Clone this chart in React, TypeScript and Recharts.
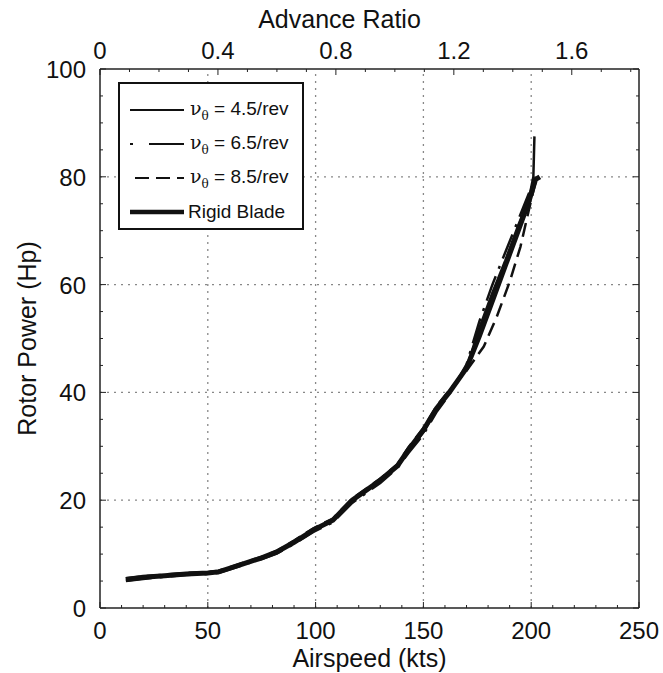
import React from 'react';
import { LineChart, Line, XAxis, YAxis, ReferenceLine, Legend } from 'recharts';

// ---- data ----
const speed45 = [12, 20, 30, 40, 50, 55, 65, 75, 82, 90, 99, 108, 117, 130, 138, 143, 150, 156, 162, 170, 176, 182, 188, 194, 199, 201, 201.5];
const power45 = [5.2, 5.6, 6.0, 6.3, 6.5, 6.7, 8.0, 9.3, 10.4, 12.2, 14.4, 16.2, 19.9, 23.6, 26.3, 29.1, 32.6, 36.8, 40.0, 44.6, 52.0, 58.5, 64.5, 71.0, 76.0, 80.0, 87.5];

const speed65 = [12, 20, 30, 40, 50, 55, 65, 75, 82, 90, 99, 108, 117, 130, 138, 143, 150, 156, 162, 170, 176, 182, 188, 194, 199, 202];
const power65 = [5.0, 5.4, 5.8, 6.1, 6.3, 6.5, 7.8, 9.1, 10.1, 11.9, 14.1, 15.9, 19.5, 23.2, 26.0, 28.7, 32.2, 36.3, 39.6, 45.2, 53.2, 60.0, 66.0, 72.0, 77.0, 80.0];

const speed85 = [12, 20, 30, 40, 50, 55, 65, 75, 82, 90, 99, 108, 117, 130, 138, 143, 150, 156, 162, 170, 178, 184, 190, 195, 199, 202, 203];
const power85 = [5.5, 5.9, 6.2, 6.5, 6.7, 6.9, 8.2, 9.5, 10.6, 12.5, 14.8, 16.6, 20.3, 24.0, 26.7, 29.8, 33.4, 37.4, 40.4, 44.0, 48.5, 54.0, 60.5, 67.0, 74.0, 79.0, 80.0];

const speedRigid = [12, 20, 30, 40, 50, 55, 65, 75, 82, 90, 99, 108, 117, 130, 138, 143, 150, 156, 162, 170, 176, 182, 188, 194, 199, 202, 204];
const powerRigid = [5.3, 5.7, 6.0, 6.3, 6.5, 6.7, 8.0, 9.3, 10.4, 12.2, 14.5, 16.3, 20.0, 23.7, 26.4, 29.3, 33.0, 37.0, 40.0, 44.5, 50.5, 57.0, 63.5, 70.0, 75.5, 79.5, 80.0];

const seriesNames = ['4.5/rev', '6.5/rev', '8.5/rev', 'Rigid Blade'];

const airspeedTicks = [0, 10, 20, 30, 40, 50, 60, 70, 80, 90, 100, 110, 120, 130, 140, 150, 160, 170, 180, 190, 200, 210, 220, 230, 240, 250];
const airspeedLabels = [0, 50, 100, 150, 200, 250];
const airspeedGrid = [50, 100, 150, 200];

const powerTicks = [0, 5, 10, 15, 20, 25, 30, 35, 40, 45, 50, 55, 60, 65, 70, 75, 80, 85, 90, 95, 100];
const powerLabels = [0, 20, 40, 60, 80, 100];
const powerGrid = [20, 40, 60, 80];

const advanceTicks = [0, 0.1, 0.2, 0.3, 0.4, 0.5, 0.6, 0.7, 0.8, 0.9, 1.0, 1.1, 1.2, 1.3, 1.4, 1.5, 1.6, 1.7, 1.8];
const advanceLabels = [0, 0.4, 0.8, 1.2, 1.6];
const advanceMax = 1.828;

const toData = (s: number[], p: number[]) => s.map((v, i) => ({ s: v, p: p[i] }));
const data45 = toData(speed45, power45);
const data65 = toData(speed65, power65);
const data85 = toData(speed85, power85);
const dataRigid = toData(speedRigid, powerRigid);
// empty carrier series so the top / right axes get their scales (draws nothing)
const advanceCarrier = advanceLabels.map((a) => ({ a, q: null as number | null }));

// ---- styles ----
const FONT = '"Liberation Sans", Arial, sans-serif';
const TICK_FS = 24;
const styleMap: Record<string, { w: number; dash?: string }> = {
  '4.5/rev': { w: 2.5 },
  '6.5/rev': { w: 2.5, dash: '26 8 3 8' },
  '8.5/rev': { w: 2.5, dash: '14 7' },
  'Rigid Blade': { w: 5 },
};

const isLabel = (labels: number[], v: number) => labels.some((l) => Math.abs(l - v) < 1e-6);

const BottomTick = (props: any) => {
  const { x, y, payload } = props;
  const major = isLabel(airspeedLabels, payload.value);
  return (
    <g>
      <line x1={x} y1={y} x2={x} y2={y - (major ? 6 : 3)} stroke="#222" strokeWidth={1} />
      {major && (
        <text x={x} y={y + 31} textAnchor="middle" fontSize={TICK_FS} fontFamily={FONT} fill="#111">
          {payload.value}
        </text>
      )}
    </g>
  );
};

const TopTick = (props: any) => {
  const { x, y, payload } = props;
  const major = isLabel(advanceLabels, payload.value);
  return (
    <g>
      <line x1={x} y1={y} x2={x} y2={y + (major ? 6 : 3)} stroke="#222" strokeWidth={1} />
      {major && (
        <text x={x} y={y - 10} textAnchor="middle" fontSize={TICK_FS} fontFamily={FONT} fill="#111">
          {String(payload.value)}
        </text>
      )}
    </g>
  );
};

const LeftTick = (props: any) => {
  const { x, y, payload } = props;
  const major = isLabel(powerLabels, payload.value);
  return (
    <g>
      <line x1={x} y1={y} x2={x + (major ? 6 : 3)} y2={y} stroke="#222" strokeWidth={1} />
      {major && (
        <text x={x - 14} y={y + 9} textAnchor="end" fontSize={TICK_FS} fontFamily={FONT} fill="#111">
          {payload.value}
        </text>
      )}
    </g>
  );
};

const RightTick = (props: any) => {
  const { x, y, payload } = props;
  const major = isLabel(powerLabels, payload.value);
  return <line x1={x} y1={y} x2={x - (major ? 6 : 3)} y2={y} stroke="#222" strokeWidth={1} />;
};

const LegendBox = (props: any) => {
  const payload = (props.payload || []) as any[];
  const sorted = seriesNames
    .map((n) => payload.find((p) => p.value === n))
    .filter(Boolean);
  return (
    <div
      style={{
        width: 186,
        height: 148,
        border: '2px solid #111',
        background: '#fff',
        boxSizing: 'border-box',
        fontFamily: FONT,
        fontSize: 19,
        color: '#111',
        paddingTop: 9,
      }}
    >
      {sorted.map((p: any) => {
        const isRigid = p.value === 'Rigid Blade';
        return (
          <div key={p.value} style={{ display: 'flex', alignItems: 'center', height: 34 }}>
            <svg width={66} height={20} style={{ flex: 'none' }}>
              <line
                x1={10}
                y1={10}
                x2={64}
                y2={10}
                stroke="#111"
                strokeWidth={isRigid ? 4.5 : 2}
                strokeDasharray={p.value === '6.5/rev' ? '3 16 32 0' : p.value === '8.5/rev' ? '14 7' : undefined}
                strokeDashoffset={p.value === '8.5/rev' ? -5 : 0}
              />
            </svg>
            {isRigid ? (
              <span style={{ marginLeft: 2 }}>Rigid Blade</span>
            ) : (
              <span style={{ marginLeft: 4, whiteSpace: 'nowrap' }}>
                <span style={{ fontFamily: '"DejaVu Serif", serif', fontSize: 19 }}>ν</span>
                <sub style={{ fontSize: 12, fontFamily: '"DejaVu Serif", serif' }}>θ</sub>
                {' = '}
                {p.value}
              </span>
            )}
          </div>
        );
      })}
    </div>
  );
};

const BottomTitle = (props: any) => {
  const vb = props.viewBox || {};
  return (
    <text x={vb.x + vb.width / 2} y={vb.y + 59} textAnchor="middle" fontSize={25} fontFamily={FONT} fill="#111">
      Airspeed (kts)
    </text>
  );
};

const TopTitle = (props: any) => {
  const vb = props.viewBox || {};
  return (
    <text x={vb.x + vb.width / 2 - 30} y={vb.y + vb.height - 41} textAnchor="middle" fontSize={25} fontFamily={FONT} fill="#111">
      Advance Ratio
    </text>
  );
};

const LeftTitle = (props: any) => {
  const vb = props.viewBox || {};
  const cx = 36;
  const cy = vb.y + vb.height / 2;
  return (
    <text x={cx} y={cy} transform={`rotate(-90 ${cx} ${cy})`} textAnchor="middle" fontSize={25} fontFamily={FONT} fill="#111">
      Rotor Power (Hp)
    </text>
  );
};

export default function App() {
  const axisLine = { stroke: '#222', strokeWidth: 1.5 };
  const grid = { stroke: '#888', strokeWidth: 1.3, strokeDasharray: '2 5' };
  return (
    <div style={{ position: 'absolute', left: 0, top: 0, background: '#fff' }}>
      <LineChart width={663} height={673} margin={{ top: 0, right: 0, bottom: 0, left: 0 }}>
        <XAxis
          xAxisId="bottom"
          orientation="bottom"
          type="number"
          dataKey="s"
          domain={[0, 250]}
          ticks={airspeedTicks}
          interval={0}
          height={65}
          tickSize={0}
          tickMargin={0}
          tickLine={false}
          axisLine={axisLine}
          tick={<BottomTick />}
          allowDataOverflow
          label={{ content: <BottomTitle /> }}
        />
        <XAxis
          xAxisId="top"
          orientation="top"
          type="number"
          dataKey="a"
          domain={[0, advanceMax]}
          ticks={advanceTicks}
          interval={0}
          height={69}
          tickSize={0}
          tickMargin={0}
          tickLine={false}
          axisLine={axisLine}
          tick={<TopTick />}
          allowDataOverflow
          label={{ content: <TopTitle /> }}
        />
        <YAxis
          yAxisId="left"
          orientation="left"
          type="number"
          domain={[0, 100]}
          ticks={powerTicks}
          interval={0}
          width={100}
          tickSize={0}
          tickMargin={0}
          tickLine={false}
          axisLine={axisLine}
          tick={<LeftTick />}
          allowDataOverflow
          label={{ content: <LeftTitle /> }}
        />
        <YAxis
          yAxisId="right"
          orientation="right"
          type="number"
          domain={[0, 100]}
          ticks={powerTicks}
          interval={0}
          width={24}
          tickSize={0}
          tickMargin={0}
          tickLine={false}
          axisLine={axisLine}
          tick={<RightTick />}
          allowDataOverflow
        />
        {airspeedGrid.map((v) => (
          <ReferenceLine key={'gx' + v} x={v} xAxisId="bottom" yAxisId="left" {...grid} />
        ))}
        {powerGrid.map((v) => (
          <ReferenceLine key={'gy' + v} y={v} xAxisId="bottom" yAxisId="left" {...grid} />
        ))}
        <Line
          xAxisId="top"
          yAxisId="right"
          data={advanceCarrier}
          dataKey="q"
          name="advance"
          legendType="none"
          stroke="none"
          dot={false}
          activeDot={false}
          isAnimationActive={false}
        />
        <Line
          xAxisId="bottom"
          yAxisId="left"
          data={dataRigid}
          dataKey="p"
          name="Rigid Blade"
          type="linear"
          stroke="#111"
          strokeWidth={styleMap['Rigid Blade'].w}
          dot={false}
          isAnimationActive={false}
        />
        <Line
          xAxisId="bottom"
          yAxisId="left"
          data={data45}
          dataKey="p"
          name="4.5/rev"
          type="linear"
          stroke="#111"
          strokeWidth={styleMap['4.5/rev'].w}
          dot={false}
          isAnimationActive={false}
        />
        <Line
          xAxisId="bottom"
          yAxisId="left"
          data={data65}
          dataKey="p"
          name="6.5/rev"
          type="linear"
          stroke="#111"
          strokeWidth={styleMap['6.5/rev'].w}
          strokeDasharray={styleMap['6.5/rev'].dash}
          dot={false}
          isAnimationActive={false}
        />
        <Line
          xAxisId="bottom"
          yAxisId="left"
          data={data85}
          dataKey="p"
          name="8.5/rev"
          type="linear"
          stroke="#111"
          strokeWidth={styleMap['8.5/rev'].w}
          strokeDasharray={styleMap['8.5/rev'].dash}
          dot={false}
          isAnimationActive={false}
        />
        <Legend
          layout="horizontal"
          verticalAlign="middle"
          align="center"
          content={<LegendBox />}
          wrapperStyle={{ position: 'absolute', left: 118, top: 82, width: 186, height: 148 }}
        />
      </LineChart>
    </div>
  );
}
